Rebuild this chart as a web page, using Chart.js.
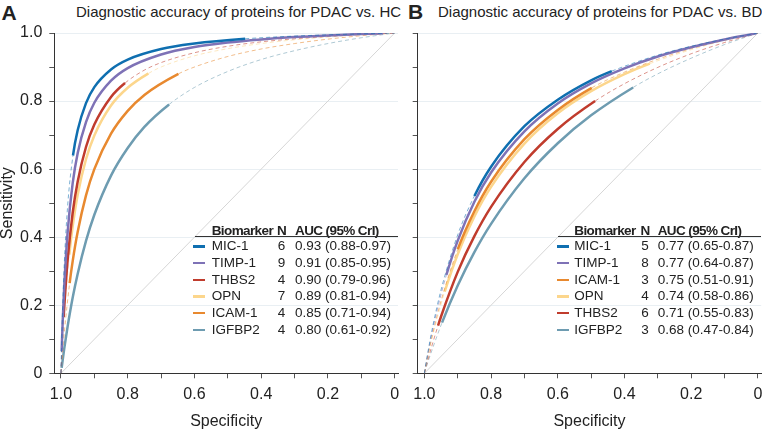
<!DOCTYPE html>
<html>
<head>
<meta charset="utf-8">
<script src="https://cdn.jsdelivr.net/npm/chart.js@4.4.1/dist/chart.umd.min.js"></script>
<style>
  html, body { margin: 0; padding: 0; background: #fff; overflow: hidden; width: 762px; height: 431px; }
  body { position: relative; font-family: "Liberation Sans Narrow", "Arial Narrow", "Liberation Sans", sans-serif; color: #222; }
  .abs { position: absolute; white-space: nowrap; }
  .letter { font-family: "Liberation Sans", Arial, sans-serif; font-weight: bold; font-size: 21px; line-height: 21px; }
  .title { font-size: 15px; line-height: 18px; }
  .leg { font-size: 13.5px; line-height: 16.67px; }
  .hdr { font-weight: bold; letter-spacing: -0.6px; }
  .ncol { width: 12px; text-align: center; }
  .sw { position: absolute; height: 2.5px; width: 12px; }
  .rule { position: absolute; height: 1px; background: #333; }
  canvas { position: absolute; top: 0; }
</style>
</head>
<body>
<div class="abs letter" style="left:1.5px; top:1.5px;">A</div>
<div class="abs title" style="left:76px; top:3px;">Diagnostic accuracy of proteins for PDAC vs. HC</div>
<div class="abs letter" style="left:408px; top:0.5px;">B</div>
<div class="abs title" style="left:438px; top:3px;">Diagnostic accuracy of proteins for PDAC vs. BD</div>

<canvas id="chartA" width="400" height="431" style="left:0; width:400px; height:431px;"></canvas>
<canvas id="chartB" width="366" height="431" style="left:400px; width:366px; height:431px;"></canvas>
<div id="legendA"></div>
<div id="legendB"></div>

<script>
// ---- tick values (shared by both panels) ----
const tickValues = [0, 0.1, 0.2, 0.3, 0.4, 0.5, 0.6, 0.7, 0.8, 0.9, 1.0];

// ---- Panel A: PDAC vs HC ----
const namesA = ['MIC-1', 'TIMP-1', 'THBS2', 'OPN', 'ICAM-1', 'IGFBP2'];
const studiesA = [6, 9, 4, 7, 4, 4];
const aucA = ['0.93 (0.88-0.97)', '0.91 (0.85-0.95)', '0.90 (0.79-0.96)', '0.89 (0.81-0.94)', '0.85 (0.71-0.94)', '0.80 (0.61-0.92)'];

const specA_MIC1 = [1, 0.998, 0.995, 0.99, 0.98, 0.964, 0.95, 0.925, 0.9, 0.85, 0.8, 0.7, 0.6, 0.448, 0.3, 0.15, 0];
const sensA_MIC1 = [0, 0.087, 0.193, 0.324, 0.492, 0.640, 0.714, 0.794, 0.841, 0.893, 0.922, 0.953, 0.969, 0.983, 0.991, 0.996, 1];
const solidA_MIC1 = [0.448, 0.964];

const specA_TIMP1 = [1, 0.998, 0.995, 0.99, 0.98, 0.965, 0.95, 0.925, 0.9, 0.85, 0.8, 0.7, 0.6, 0.5, 0.4, 0.3, 0.2, 0.1, 0.035, 0];
const sensA_TIMP1 = [0, 0.065, 0.149, 0.260, 0.415, 0.558, 0.647, 0.738, 0.795, 0.860, 0.897, 0.937, 0.959, 0.972, 0.981, 0.988, 0.993, 0.997, 0.999, 1];
const solidA_TIMP1 = [0.035, 0.998];

const specA_THBS2 = [1, 0.998, 0.995, 0.992, 0.99, 0.98, 0.965, 0.95, 0.925, 0.9, 0.85, 0.808, 0.75, 0.7, 0.6, 0.5, 0.4, 0.3, 0.2, 0.1, 0];
const sensA_THBS2 = [0, 0.047, 0.110, 0.165, 0.198, 0.333, 0.471, 0.563, 0.665, 0.731, 0.812, 0.853, 0.891, 0.913, 0.942, 0.961, 0.974, 0.983, 0.990, 0.996, 1];
const solidA_THBS2 = [0.808, 0.992];

const specA_OPN = [1, 0.998, 0.995, 0.99, 0.975, 0.965, 0.95, 0.925, 0.9, 0.85, 0.8, 0.738, 0.7, 0.6, 0.5, 0.4, 0.3, 0.2, 0.1, 0];
const sensA_OPN = [0, 0.040, 0.095, 0.174, 0.349, 0.431, 0.524, 0.629, 0.699, 0.787, 0.839, 0.881, 0.900, 0.933, 0.954, 0.969, 0.980, 0.988, 0.995, 1];
const solidA_OPN = [0.738, 0.975];

const specA_ICAM1 = [1, 0.998, 0.995, 0.99, 0.974, 0.965, 0.95, 0.925, 0.9, 0.85, 0.8, 0.75, 0.648, 0.6, 0.5, 0.4, 0.3, 0.2, 0.1, 0];
const sensA_ICAM1 = [0, 0.026, 0.064, 0.120, 0.265, 0.329, 0.415, 0.523, 0.600, 0.704, 0.771, 0.818, 0.880, 0.900, 0.931, 0.953, 0.969, 0.982, 0.992, 1];
const solidA_ICAM1 = [0.648, 0.974];

const specA_IGFBP2 = [1, 0.998, 0.995, 0.99, 0.98, 0.965, 0.95, 0.925, 0.9, 0.85, 0.8, 0.75, 0.676, 0.6, 0.5, 0.4, 0.3, 0.2, 0.1, 0];
const sensA_IGFBP2 = [0, 0.016, 0.038, 0.074, 0.138, 0.222, 0.292, 0.389, 0.466, 0.581, 0.662, 0.724, 0.790, 0.840, 0.887, 0.922, 0.948, 0.969, 0.986, 1];
const solidA_IGFBP2 = [0.676, 0.998];

// ---- Panel B: PDAC vs BD ----
const namesB = ['MIC-1', 'TIMP-1', 'ICAM-1', 'OPN', 'THBS2', 'IGFBP2'];
const studiesB = [5, 8, 3, 4, 6, 3];
const aucB = ['0.77 (0.65-0.87)', '0.77 (0.64-0.87)', '0.75 (0.51-0.91)', '0.74 (0.58-0.86)', '0.71 (0.55-0.83)', '0.68 (0.47-0.84)'];

const specB_MIC1 = [1, 0.99, 0.975, 0.95, 0.9, 0.85, 0.8, 0.7, 0.6, 0.5, 0.438, 0.3, 0.2, 0.1, 0];
const sensB_MIC1 = [0, 0.059, 0.137, 0.245, 0.407, 0.521, 0.607, 0.726, 0.804, 0.861, 0.888, 0.935, 0.961, 0.982, 1];
const solidB_MIC1 = [0.438, 0.85];

const specB_TIMP1 = [1, 0.99, 0.975, 0.95, 0.934, 0.9, 0.85, 0.8, 0.7, 0.6, 0.5, 0.4, 0.3, 0.2, 0.1, 0.005, 0];
const sensB_TIMP1 = [0, 0.055, 0.129, 0.232, 0.289, 0.390, 0.504, 0.590, 0.711, 0.793, 0.852, 0.896, 0.931, 0.958, 0.981, 0.999, 1];
const solidB_TIMP1 = [0.005, 0.934];

const specB_ICAM1 = [1, 0.99, 0.975, 0.95, 0.9, 0.85, 0.8, 0.7, 0.6, 0.498, 0.4, 0.3, 0.2, 0.1, 0];
const sensB_ICAM1 = [0, 0.049, 0.117, 0.213, 0.364, 0.476, 0.563, 0.688, 0.774, 0.839, 0.885, 0.923, 0.954, 0.979, 1];
const solidB_ICAM1 = [0.498, 0.9];

const specB_OPN = [1, 0.99, 0.975, 0.95, 0.939, 0.9, 0.85, 0.8, 0.7, 0.6, 0.5, 0.4, 0.324, 0.2, 0.1, 0];
const sensB_OPN = [0, 0.047, 0.111, 0.203, 0.240, 0.350, 0.461, 0.548, 0.675, 0.764, 0.829, 0.879, 0.910, 0.951, 0.978, 1];
const solidB_OPN = [0.324, 0.939];

const specB_THBS2 = [1, 0.99, 0.975, 0.959, 0.95, 0.9, 0.85, 0.8, 0.7, 0.6, 0.488, 0.4, 0.3, 0.2, 0.1, 0];
const sensB_THBS2 = [0, 0.037, 0.089, 0.140, 0.167, 0.298, 0.403, 0.489, 0.621, 0.718, 0.800, 0.851, 0.899, 0.939, 0.972, 1];
const solidB_THBS2 = [0.488, 0.959];

const specB_IGFBP2 = [1, 0.99, 0.975, 0.947, 0.9, 0.85, 0.8, 0.7, 0.6, 0.5, 0.374, 0.3, 0.2, 0.1, 0];
const sensB_IGFBP2 = [0, 0.031, 0.074, 0.149, 0.258, 0.356, 0.439, 0.573, 0.676, 0.758, 0.840, 0.880, 0.926, 0.966, 1];
const solidB_IGFBP2 = [0.374, 0.947];

// colour per biomarker
const markerColors = {
  'MIC-1': '#0f6fb0',
  'TIMP-1': '#7e72b6',
  'THBS2': '#c03c2d',
  'OPN': '#fcd68c',
  'ICAM-1': '#e8892f',
  'IGFBP2': '#6e9cb1'
};

const curvesA = [
  { spec: specA_MIC1, sens: sensA_MIC1, solid: solidA_MIC1 },
  { spec: specA_TIMP1, sens: sensA_TIMP1, solid: solidA_TIMP1 },
  { spec: specA_THBS2, sens: sensA_THBS2, solid: solidA_THBS2 },
  { spec: specA_OPN, sens: sensA_OPN, solid: solidA_OPN },
  { spec: specA_ICAM1, sens: sensA_ICAM1, solid: solidA_ICAM1 },
  { spec: specA_IGFBP2, sens: sensA_IGFBP2, solid: solidA_IGFBP2 }
];
const curvesB = [
  { spec: specB_MIC1, sens: sensB_MIC1, solid: solidB_MIC1 },
  { spec: specB_TIMP1, sens: sensB_TIMP1, solid: solidB_TIMP1 },
  { spec: specB_ICAM1, sens: sensB_ICAM1, solid: solidB_ICAM1 },
  { spec: specB_OPN, sens: sensB_OPN, solid: solidB_OPN },
  { spec: specB_THBS2, sens: sensB_THBS2, solid: solidB_THBS2 },
  { spec: specB_IGFBP2, sens: sensB_IGFBP2, solid: solidB_IGFBP2 }
];

function hexToRgba(hex, a) {
  const n = parseInt(hex.slice(1), 16);
  return `rgba(${(n >> 16) & 255}, ${(n >> 8) & 255}, ${n & 255}, ${a})`;
}

function tickLabel(v) {
  const k = Math.round(v * 10);
  if (k % 2 !== 0) return '';
  if (k === 0) return '0';
  return (k / 10).toFixed(1);
}

// one dataset per curve: solid inside the observed range, dashed outside
function curveDataset(curve, name) {
  const color = markerColors[name];
  const [lo, hi] = curve.solid;
  const inRange = ctx => {
    const a = curve.spec[ctx.p0DataIndex];
    const b = curve.spec[ctx.p1DataIndex];
    return a <= hi + 1e-6 && b >= lo - 1e-6;
  };
  return {
    label: name,
    data: curve.spec.map((s, i) => ({ x: s, y: curve.sens[i] })),
    borderColor: color,
    borderWidth: 2.5,
    pointRadius: 0,
    cubicInterpolationMode: 'monotone',
    fill: false,
    segment: {
      borderDash: ctx => inRange(ctx) ? undefined : [4, 3],
      borderWidth: ctx => inRange(ctx) ? undefined : 1,
      borderColor: ctx => inRange(ctx) ? undefined : hexToRgba(color, 0.55)
    }
  };
}

function createChart(canvasId, curves, names, isLeft) {
  const ctx = document.getElementById(canvasId).getContext('2d');
  const datasets = [{
    label: 'chance',
    data: [{ x: 1, y: 0 }, { x: 0, y: 1 }],
    borderColor: '#d6d6d6',
    borderWidth: 1,
    pointRadius: 0,
    order: 100
  }];
  curves.forEach((c, i) => datasets.push(curveDataset(c, names[i])));

  const font = { family: '"Liberation Sans Narrow", "Arial Narrow", "Liberation Sans", sans-serif', size: 16 };

  return new Chart(ctx, {
    type: 'line',
    data: { datasets: datasets },
    options: {
      responsive: false,
      animation: false,
      layout: { padding: { left: 0, top: 33, right: isLeft ? 2 : 4.8, bottom: 0 } },
      plugins: { legend: { display: false }, tooltip: { enabled: false } },
      scales: {
        x: {
          type: 'linear',
          reverse: true,
          min: -0.01,
          max: 1.02,
          afterBuildTicks: s => { s.ticks = tickValues.map(v => ({ value: v })); },
          afterFit: s => { s.height = 57.7; },
          ticks: { autoSkip: false, maxRotation: 0, color: '#222', font: font, padding: 7, callback: v => tickLabel(v) },
          grid: { drawOnChartArea: false, tickLength: 5, tickColor: '#555' },
          border: { color: '#333', width: 1 },
          title: { display: true, text: 'Specificity', color: '#222', font: { family: font.family, size: 16, lineHeight: 1 }, padding: { top: 0, bottom: 1 } }
        },
        y: {
          type: 'linear',
          min: 0,
          max: 1,
          afterBuildTicks: s => { s.ticks = tickValues.map(v => ({ value: v })); },
          afterFit: s => { s.width = isLeft ? 54.3 : 17.7; },
          ticks: { autoSkip: false, color: '#222', font: font, padding: 7, callback: v => isLeft ? tickLabel(v) : '' },
          grid: {
            tickLength: 5,
            tickColor: '#555',
            color: c => (Math.round(c.tick.value * 10) % 2 === 0) ? '#e9eff3' : 'rgba(0,0,0,0)'
          },
          border: { color: '#333', width: 1 },
          title: { display: isLeft, text: 'Sensitivity', color: '#222', font: { family: font.family, size: 16, lineHeight: 1 }, padding: { top: 0, bottom: 0 } }
        }
      }
    }
  });
}

// table legend drawn as html text
function buildLegend(hostId, names, studies, aucs, cols) {
  const host = document.getElementById(hostId);
  let html = '';
  const headTop = 223.3;
  html += `<div class="abs leg hdr" style="left:${cols.name}px; top:${headTop}px;">Biomarker</div>`;
  html += `<div class="abs leg hdr ncol" style="left:${cols.n}px; top:${headTop}px;">N</div>`;
  html += `<div class="abs leg hdr" style="left:${cols.auc}px; top:${headTop}px;">AUC (95% CrI)</div>`;
  html += `<div class="rule" style="left:${cols.sw + 1.5}px; width:${cols.end - cols.sw - 1.5}px; top:236.2px;"></div>`;
  names.forEach((nm, i) => {
    const top = 238.2 + i * 16.67;
    html += `<div class="sw" style="left:${cols.sw}px; top:${top + 7}px; background:${markerColors[nm]};"></div>`;
    html += `<div class="abs leg" style="left:${cols.name}px; top:${top}px;">${nm}</div>`;
    html += `<div class="abs leg ncol" style="left:${cols.n}px; top:${top}px;">${studies[i]}</div>`;
    html += `<div class="abs leg" style="left:${cols.auc}px; top:${top}px;">${aucs[i]}</div>`;
  });
  host.innerHTML = html;
}

const chartA = createChart('chartA', curvesA, namesA, true);
const chartB = createChart('chartB', curvesB, namesB, false);

buildLegend('legendA', namesA, studiesA, aucA, { sw: 193.3, name: 211.7, n: 275.6, auc: 295, end: 398 });
buildLegend('legendB', namesB, studiesB, aucB, { sw: 556.7, name: 574.3, n: 639, auc: 657.7, end: 761 });
</script>
</body>
</html>
